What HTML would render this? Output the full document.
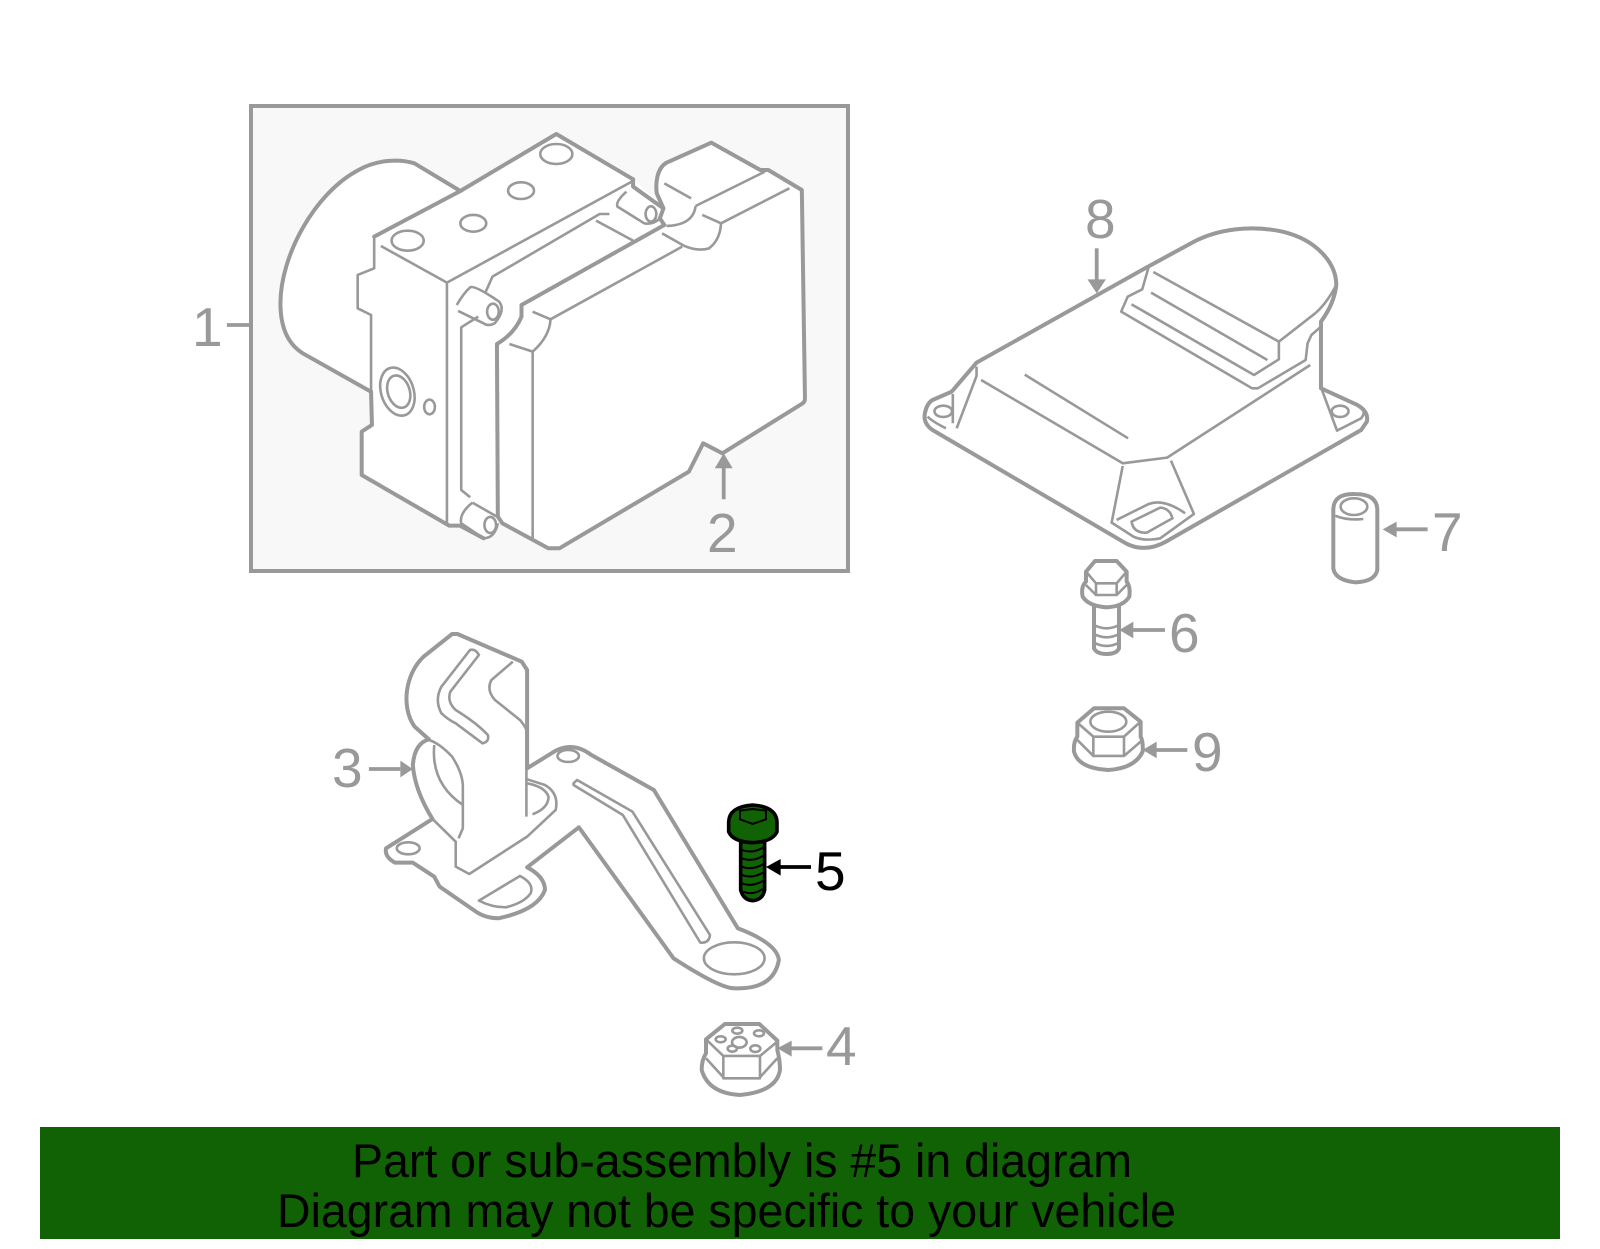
<!DOCTYPE html>
<html><head><meta charset="utf-8">
<style>
html,body{margin:0;padding:0;background:#fff}
svg{display:block}
path,ellipse,rect,polygon,line{vector-effect:non-scaling-stroke}
.k{fill:none;stroke:#999;stroke-width:4;stroke-linejoin:round;stroke-linecap:round}
.t{fill:none;stroke:#999;stroke-width:2.6;stroke-linejoin:round;stroke-linecap:butt}
.w{fill:#fff;stroke:none}
.a{fill:#999;stroke:none}
.l{fill:none;stroke:#999;stroke-width:3.8}
text{font-family:"Liberation Sans",sans-serif}
.n{font-size:55px;fill:#999}
.b{font-size:47px;fill:#000}
</style></head><body>
<svg width="1600" height="1249" viewBox="0 0 1600 1249" xmlns="http://www.w3.org/2000/svg">
<rect width="1600" height="1249" fill="#fff"/>

<!-- ABS box -->
<rect x="251" y="106" width="597" height="465" fill="#f8f8f8" stroke="#999" stroke-width="4"/>
<g transform="translate(180,90) scale(.4464,.3333)">
<path class="w" d="M628 303L843 132L1015 268L1075 340L1068 310C1065 280 1068 235 1090 218L1190 158L1300 240L1318 240L1393 300L1400 925Q1400 935 1395 940L1215 1090L1172 1060L1140 1145L850 1375L825 1375L722 1300L712 1300Q700 1345 680 1345L627 1307L603 1307L407 1155L407 1025L430 1005L428 905L275 790C245 765 225 720 225 640C225 500 300 310 400 240C440 210 490 205 525 220Z"/>
<path class="k" d="M628 303L525 220C490 205 440 210 400 240C300 310 225 500 225 640C225 720 245 765 275 790L425 903"/>
<path class="k" d="M428 905L430 1005L407 1025L407 1155L603 1307L627 1307L680 1345"/>
<path class="k" d="M628 303L843 132L1015 268"/>
<path class="k" d="M435 440L628 303"/>
<path class="t" d="M435 440L435 535L398 555L398 655L428 675L428 905"/>
<path class="t" d="M450 468L598 578M598 578L1012 275M598 578L598 1300"/>
<path class="k" d="M1015 268V290L1083 355L1075 385L1085 405L765 645L765 680Q750 730 710 762L712 1280L722 1300L825 1375L850 1375L1140 1145L1172 1060L1215 1090L1395 940Q1400 935 1400 925L1393 300L1318 240L1300 240L1190 158L1090 218C1068 235 1065 280 1068 310L1083 355"/>
<path class="t" d="M790 665L830 688Q828 740 790 785L738 762M830 688L1125 470M790 785V1345M1080 430L1130 468Q1160 485 1185 475Q1210 450 1212 400L1170 375M1212 400L1365 295M1085 280L1145 325M1155 348L1310 245M1155 348Q1150 405 1090 408"/>
<path class="t" d="M962 372H940L700 560L685 605M932 392L1015 452M668 680L630 712V1200L650 1222M655 1238L710 1280"/>
<path class="t" d="M620 645Q635 610 650 592Q660 585 715 635Q730 660 705 700Q690 710 680 700L623 663"/>
<ellipse class="t" cx="701" cy="665" rx="13" ry="24"/>
<path class="t" d="M1000 305Q975 335 980 350L1040 400Q1060 405 1075 385"/>
<ellipse class="t" cx="1055" cy="372" rx="12" ry="23"/>
<path class="t" d="M655 1238Q625 1270 630 1300L680 1345Q705 1345 712 1300"/>
<ellipse class="t" cx="695" cy="1305" rx="13" ry="24"/>
<ellipse class="t" cx="510" cy="452" rx="36" ry="30"/>
<ellipse class="t" cx="657" cy="400" rx="29" ry="25"/>
<ellipse class="t" cx="764" cy="302" rx="29" ry="25"/>
<ellipse class="t" cx="843" cy="192" rx="36" ry="30"/>
<ellipse class="t" cx="487" cy="905" rx="37" ry="73" transform="rotate(-10 487 905)"/>
<ellipse class="t" cx="490" cy="905" rx="25" ry="49" transform="rotate(-10 490 905)"/>
<ellipse class="t" cx="559" cy="951" rx="12" ry="22"/>
<path class="l" d="M105 705H158M1218 1228V1130"/>
<polygon class="a" points="1198,1135 1218,1090 1238,1135"/>
</g>
<text class="n" x="192" y="346">1</text>
<text class="n" x="707" y="552">2</text>

<!-- Module 8 -->
<g transform="translate(900,190) scale(.3827,.3333)">
<path class="w" d="M200 518L640 235L760 160C830 115 920 105 1000 125C1090 150 1140 220 1140 285Q1135 340 1100 395V595L1195 645Q1225 665 1220 695L1205 720L695 1055Q640 1090 590 1060L85 720Q60 700 65 670Q70 640 85 630L135 605Z"/>
<path class="k" d="M200 518L640 235L760 160C830 115 920 105 1000 125C1090 150 1140 220 1140 285Q1135 340 1100 395V595L1195 645Q1225 665 1220 695L1205 720L695 1055Q640 1090 590 1060L85 720Q60 700 65 670Q70 640 85 630L135 605L200 518"/>
<path class="t" d="M650 230L633 298L595 320L578 365L920 595H935L1060 510L1065 460L1075 435L1100 410M1140 285Q1115 340 1085 370L990 455V508L925 555L605 343M662 246L990 455M656 308L960 510"/>
<path class="t" d="M212 570L582 820L698 803L1072 525M326 554L596 745M582 828L553 998L610 1040Q640 1055 680 1045L768 972L708 812M566 990L650 942Q690 925 745 970M605 995L680 953Q705 955 712 985L645 1028Q610 1030 605 995Z"/>
<path class="t" d="M200 530V558L148 715M138 612V700M72 680Q85 695 120 715M1102 598L1142 722L1205 685Q1215 670 1210 660"/>
<ellipse class="t" cx="113" cy="664" rx="23" ry="17"/>
<ellipse class="t" cx="1150" cy="664" rx="22" ry="17"/>
<path class="l" d="M514 175V270"/>
<polygon class="a" points="490,268 514,310 538,268"/>
</g>
<text class="n" x="1085" y="238">8</text>

<!-- Bracket 3 -->
<g transform="translate(320,620) scale(.3571,.3333)">
<path class="w" d="M370 42L290 110C240 160 225 260 265 320L305 358Q265 370 260 435Q265 510 315 597L185 685Q180 710 210 728H260L320 770L335 800L430 870Q460 895 500 895Q610 870 630 810Q630 770 580 742L725 622L990 1015Q1120 1105 1160 1105Q1270 1110 1285 1020Q1280 970 1170 925L935 510L760 405Q710 365 660 392L580 445V150L565 125L385 42Z"/>
<path class="k" d="M370 42L290 110C240 160 225 260 265 320L305 358Q265 370 260 435Q265 510 315 597L185 685Q180 710 210 728H260L320 770L335 800L430 870Q460 895 500 895Q610 870 630 810Q630 770 580 742L725 622L990 1015Q1120 1105 1160 1105Q1270 1110 1285 1020Q1280 970 1170 925L935 510L760 405Q710 365 660 392L580 445M370 42L385 42L565 125L580 150V445"/>
<path class="t" d="M540 125L480 180Q465 210 490 240L560 300Q575 320 578 330V590"/>
<path class="t" d="M420 90L340 200Q320 240 340 280Q360 300 380 310L455 370Q475 365 470 345Q440 310 380 270Q355 245 365 215L445 105Q435 85 420 90Z"/>
<path class="t" d="M305 360Q335 370 370 410Q400 460 400 500V625L388 655M320 375Q310 490 400 555"/>
<path class="t" d="M315 597L380 665V740L418 762L580 650L660 570Q670 520 630 495L580 478M595 583Q640 565 640 530Q630 500 580 490"/>
<ellipse class="t" cx="695" cy="408" rx="30" ry="18"/>
<ellipse class="t" cx="247" cy="685" rx="32" ry="18"/>
<ellipse class="t" cx="1160" cy="1015" rx="85" ry="48"/>
<path class="t" d="M710 490L720 480L875 575L1092 945Q1090 970 1065 968L848 585L710 495Z"/>
<path class="t" d="M445 842L560 768Q600 790 590 820Q570 850 520 862Q480 862 445 842Z"/>
<path class="l" d="M137 447H225"/>
<polygon class="a" points="225,422 260,447 225,472"/>
</g>
<text class="n" x="332" y="787">3</text>

<!-- Bolt 5 and nut 4 -->
<g transform="translate(680,790) scale(.3333)">
<path d="M182 155V300Q190 330 218 332Q248 330 254 300V155Z" fill="#116105" stroke="#000" stroke-width="3.6"/>
<path d="M185 180Q218 192 250 172M185 205Q218 217 250 197M185 230Q218 242 250 222M185 255Q218 267 250 247M185 280Q218 292 250 272M190 305Q218 317 248 297" fill="none" stroke="#000" stroke-width="2"/>
<path d="M146 95Q148 50 218 45Q288 50 291 95V125Q278 155 218 158Q158 155 146 125Z" fill="#116105" stroke="#000" stroke-width="3.6"/>
<path d="M180 62L218 57L258 62V88L218 102L180 88Z" fill="#116105" stroke="#000" stroke-width="2"/>
<path d="M295 231H393" fill="none" stroke="#000" stroke-width="3.8"/>
<polygon points="302,207 258,231 302,257" fill="#000"/>

<path class="k" d="M78 748L135 702H238L292 752V780Q300 810 300 840Q290 905 180 915Q85 910 65 840Q65 810 78 790Z"/>
<path class="t" d="M78 748L130 798V865H240V798L292 755M130 798H240M78 805L130 862M292 805L240 862"/>
<ellipse class="t" cx="178" cy="757" rx="22" ry="16"/>
<ellipse class="t" cx="122" cy="748" rx="15" ry="9"/>
<ellipse class="t" cx="172" cy="722" rx="15" ry="9"/>
<ellipse class="t" cx="237" cy="730" rx="15" ry="9"/>
<ellipse class="t" cx="157" cy="776" rx="14" ry="9"/>
<ellipse class="t" cx="226" cy="776" rx="15" ry="10"/>
<path class="l" d="M330 775H427"/>
<polygon class="a" points="335,752 292,775 335,800"/>
</g>
<text x="815" y="890" class="n" style="fill:#000">5</text>
<text class="n" x="826" y="1065">4</text>

<!-- Parts 6, 7, 9 -->
<g transform="translate(1060,480) scale(.3333)">
<path class="k" d="M820 90Q820 40 885 42Q952 42 952 90V270Q945 305 885 307Q825 300 820 265Z"/>
<ellipse class="t" cx="882" cy="80" rx="40" ry="25"/>
<path class="t" d="M826 107Q860 122 910 117"/>
<path class="l" d="M1005 148H1103"/>
<polygon class="a" points="1010,125 968,148 1010,172"/>

<path class="k" d="M105 243H170L200 275V305Q212 320 208 350Q190 380 140 382Q85 378 68 350Q62 320 78 305V275Z"/>
<path class="t" d="M78 275L108 310H170L200 275M108 310V345H170V310M78 315L108 345M200 315L170 345"/>
<path class="k" d="M102 380V505Q110 522 140 522Q170 522 177 505V380"/>
<path class="t" d="M102 435Q140 455 177 435M102 462Q140 482 177 462M102 488Q140 508 177 488"/>
<path class="l" d="M215 450H315"/>
<polygon class="a" points="220,425 178,450 220,475"/>

<path class="k" d="M52 728L102 685H192L242 725V770Q250 785 248 815Q225 865 145 870Q55 865 42 815Q40 785 52 770Z"/>
<path class="t" d="M52 728L100 770H192L242 725M100 770V828H192V770M52 780L100 828M242 785L192 828"/>
<ellipse class="t" cx="145" cy="725" rx="54" ry="30"/>
<path class="l" d="M285 810H382"/>
<polygon class="a" points="290,785 248,810 290,835"/>
</g>
<text class="n" x="1432" y="551">7</text>
<text class="n" x="1169" y="652">6</text>
<text class="n" x="1192" y="771">9</text>

<!-- Banner -->
<rect x="40" y="1127" width="1520" height="112" fill="#116105"/>
<text class="b" x="352" y="1177" textLength="780" lengthAdjust="spacingAndGlyphs">Part or sub-assembly is #5 in diagram</text>
<text class="b" x="277" y="1227" textLength="899" lengthAdjust="spacingAndGlyphs">Diagram may not be specific to your vehicle</text>
</svg>
</body></html>
